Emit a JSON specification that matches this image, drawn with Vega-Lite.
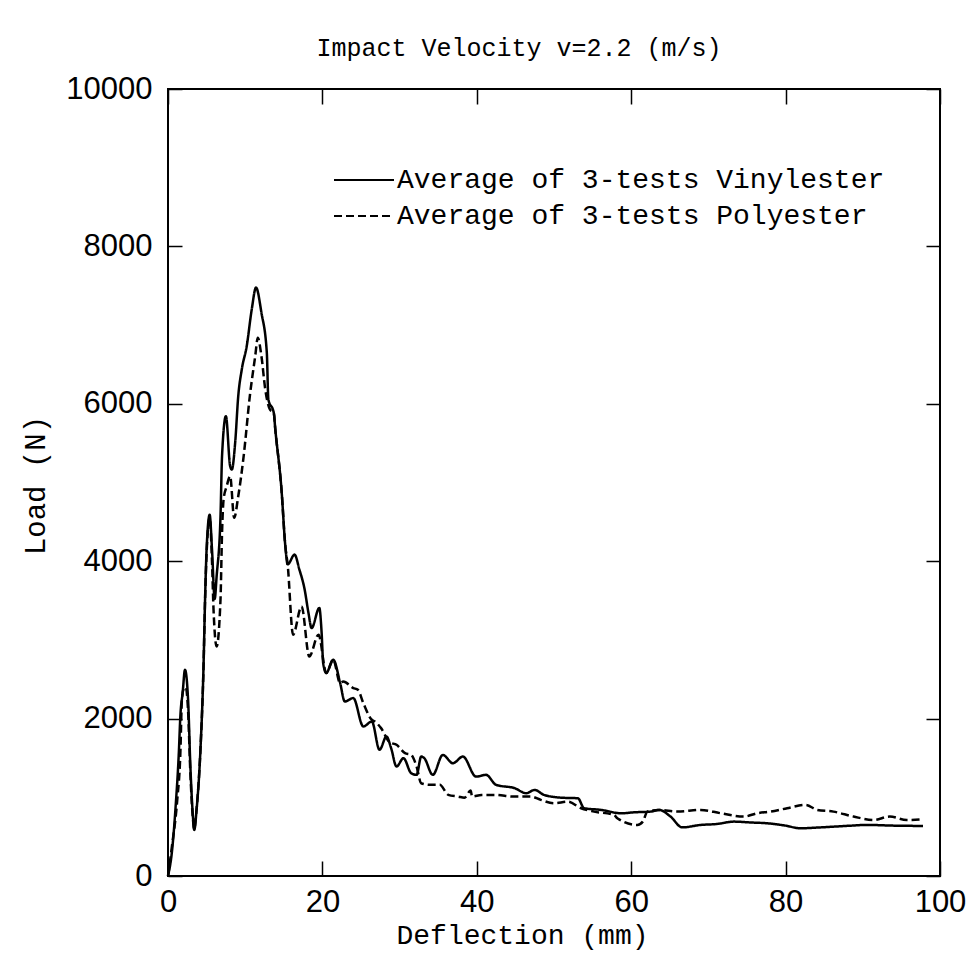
{
  "$schema": "https://vega.github.io/schema/vega-lite/v6.json",
  "autosize": {"type": "none"},
  "padding": {"left": 168, "top": 89, "right": 33, "bottom": 82},
  "width": 772,
  "height": 787,
  "background": "white",
  "title": {"text": "Impact Velocity v=2.2 (m/s)", "font": "Liberation Mono", "fontSize": 25, "fontWeight": "normal", "color": "black", "anchor": "middle", "dx": -35, "offset": -8, "baseline": "alphabetic"},
  "config": {
    "view": {"stroke": "black", "strokeWidth": 2},
    "axis": {"grid": false, "domain": false, "tickColor": "black", "tickWidth": 1.5, "labelColor": "black", "titleColor": "black"}
  },
  "datasets": {
    "curves": [
      {"deflection": 0, "load": 0, "series": "Vinylester"},
      {"deflection": 0.5, "load": 300, "series": "Vinylester"},
      {"deflection": 1.0, "load": 900, "series": "Vinylester"},
      {"deflection": 1.4, "load": 1560, "series": "Vinylester"},
      {"deflection": 1.6, "load": 2030, "series": "Vinylester"},
      {"deflection": 1.9, "load": 2330, "series": "Vinylester"},
      {"deflection": 2.2, "load": 2620, "series": "Vinylester"},
      {"deflection": 2.6, "load": 2240, "series": "Vinylester"},
      {"deflection": 2.9, "load": 1390, "series": "Vinylester"},
      {"deflection": 3.2, "load": 800, "series": "Vinylester"},
      {"deflection": 3.4, "load": 585, "series": "Vinylester"},
      {"deflection": 3.7, "load": 840, "series": "Vinylester"},
      {"deflection": 4.2, "load": 1600, "series": "Vinylester"},
      {"deflection": 4.6, "load": 2660, "series": "Vinylester"},
      {"deflection": 4.8, "load": 3510, "series": "Vinylester"},
      {"deflection": 5.0, "load": 4150, "series": "Vinylester"},
      {"deflection": 5.4, "load": 4590, "series": "Vinylester"},
      {"deflection": 5.7, "load": 4150, "series": "Vinylester"},
      {"deflection": 6.05, "load": 3520, "series": "Vinylester"},
      {"deflection": 6.3, "load": 3810, "series": "Vinylester"},
      {"deflection": 6.8, "load": 4570, "series": "Vinylester"},
      {"deflection": 7.0, "load": 5335, "series": "Vinylester"},
      {"deflection": 7.5, "load": 5843, "series": "Vinylester"},
      {"deflection": 8.05, "load": 5208, "series": "Vinylester"},
      {"deflection": 8.27, "load": 5165, "series": "Vinylester"},
      {"deflection": 8.7, "load": 5505, "series": "Vinylester"},
      {"deflection": 9.1, "load": 6098, "series": "Vinylester"},
      {"deflection": 9.56, "load": 6438, "series": "Vinylester"},
      {"deflection": 10.2, "load": 6734, "series": "Vinylester"},
      {"deflection": 10.85, "load": 7201, "series": "Vinylester"},
      {"deflection": 11.4, "load": 7477, "series": "Vinylester"},
      {"deflection": 12.1, "load": 7159, "series": "Vinylester"},
      {"deflection": 12.8, "load": 6650, "series": "Vinylester"},
      {"deflection": 13.0, "load": 6056, "series": "Vinylester"},
      {"deflection": 13.7, "load": 5886, "series": "Vinylester"},
      {"deflection": 13.9, "load": 5674, "series": "Vinylester"},
      {"deflection": 14.7, "load": 4911, "series": "Vinylester"},
      {"deflection": 15.2, "load": 4190, "series": "Vinylester"},
      {"deflection": 15.5, "load": 3960, "series": "Vinylester"},
      {"deflection": 16.4, "load": 4084, "series": "Vinylester"},
      {"deflection": 17.0, "load": 3900, "series": "Vinylester"},
      {"deflection": 17.7, "load": 3640, "series": "Vinylester"},
      {"deflection": 18.2, "load": 3340, "series": "Vinylester"},
      {"deflection": 18.6, "load": 3150, "series": "Vinylester"},
      {"deflection": 19.6, "load": 3406, "series": "Vinylester"},
      {"deflection": 19.9, "load": 3090, "series": "Vinylester"},
      {"deflection": 20.1, "load": 2706, "series": "Vinylester"},
      {"deflection": 20.5, "load": 2580, "series": "Vinylester"},
      {"deflection": 21.4, "load": 2748, "series": "Vinylester"},
      {"deflection": 22.3, "load": 2452, "series": "Vinylester"},
      {"deflection": 22.9, "load": 2218, "series": "Vinylester"},
      {"deflection": 24.0, "load": 2261, "series": "Vinylester"},
      {"deflection": 25.3, "load": 1900, "series": "Vinylester"},
      {"deflection": 26.4, "load": 1963, "series": "Vinylester"},
      {"deflection": 27.4, "load": 1603, "series": "Vinylester"},
      {"deflection": 28.3, "load": 1773, "series": "Vinylester"},
      {"deflection": 28.9, "load": 1625, "series": "Vinylester"},
      {"deflection": 29.6, "load": 1391, "series": "Vinylester"},
      {"deflection": 30.5, "load": 1497, "series": "Vinylester"},
      {"deflection": 31.5, "load": 1306, "series": "Vinylester"},
      {"deflection": 32.2, "load": 1285, "series": "Vinylester"},
      {"deflection": 32.8, "load": 1518, "series": "Vinylester"},
      {"deflection": 33.2, "load": 1497, "series": "Vinylester"},
      {"deflection": 34.3, "load": 1285, "series": "Vinylester"},
      {"deflection": 35.6, "load": 1539, "series": "Vinylester"},
      {"deflection": 36.9, "load": 1433, "series": "Vinylester"},
      {"deflection": 38.2, "load": 1518, "series": "Vinylester"},
      {"deflection": 39.9, "load": 1263, "series": "Vinylester"},
      {"deflection": 41.2, "load": 1285, "series": "Vinylester"},
      {"deflection": 42.5, "load": 1158, "series": "Vinylester"},
      {"deflection": 44.9, "load": 1116, "series": "Vinylester"},
      {"deflection": 46.4, "load": 1052, "series": "Vinylester"},
      {"deflection": 47.5, "load": 1094, "series": "Vinylester"},
      {"deflection": 48.7, "load": 1031, "series": "Vinylester"},
      {"deflection": 51.0, "load": 995, "series": "Vinylester"},
      {"deflection": 53.1, "load": 988, "series": "Vinylester"},
      {"deflection": 53.9, "load": 861, "series": "Vinylester"},
      {"deflection": 56.1, "load": 840, "series": "Vinylester"},
      {"deflection": 58.7, "load": 797, "series": "Vinylester"},
      {"deflection": 60.5, "load": 810, "series": "Vinylester"},
      {"deflection": 62.5, "load": 818, "series": "Vinylester"},
      {"deflection": 63.6, "load": 840, "series": "Vinylester"},
      {"deflection": 65.1, "load": 755, "series": "Vinylester"},
      {"deflection": 66.6, "load": 618, "series": "Vinylester"},
      {"deflection": 69.0, "load": 649, "series": "Vinylester"},
      {"deflection": 71.0, "load": 660, "series": "Vinylester"},
      {"deflection": 73.3, "load": 691, "series": "Vinylester"},
      {"deflection": 75.5, "load": 680, "series": "Vinylester"},
      {"deflection": 77.6, "load": 670, "series": "Vinylester"},
      {"deflection": 80.0, "load": 640, "series": "Vinylester"},
      {"deflection": 81.9, "load": 606, "series": "Vinylester"},
      {"deflection": 84.0, "load": 615, "series": "Vinylester"},
      {"deflection": 86.2, "load": 627, "series": "Vinylester"},
      {"deflection": 88.5, "load": 640, "series": "Vinylester"},
      {"deflection": 90.5, "load": 649, "series": "Vinylester"},
      {"deflection": 94.0, "load": 640, "series": "Vinylester"},
      {"deflection": 97.8, "load": 636, "series": "Vinylester"},
      {"deflection": 0, "load": 0, "series": "Polyester"},
      {"deflection": 0.5, "load": 370, "series": "Polyester"},
      {"deflection": 1.2, "load": 970, "series": "Polyester"},
      {"deflection": 1.6, "load": 1560, "series": "Polyester"},
      {"deflection": 1.8, "load": 2240, "series": "Polyester"},
      {"deflection": 2.0, "load": 2370, "series": "Polyester"},
      {"deflection": 2.3, "load": 2400, "series": "Polyester"},
      {"deflection": 2.6, "load": 2100, "series": "Polyester"},
      {"deflection": 2.9, "load": 1300, "series": "Polyester"},
      {"deflection": 3.2, "load": 760, "series": "Polyester"},
      {"deflection": 3.4, "load": 600, "series": "Polyester"},
      {"deflection": 3.7, "load": 850, "series": "Polyester"},
      {"deflection": 4.2, "load": 1600, "series": "Polyester"},
      {"deflection": 4.6, "load": 2650, "series": "Polyester"},
      {"deflection": 4.8, "load": 3500, "series": "Polyester"},
      {"deflection": 5.0, "load": 4100, "series": "Polyester"},
      {"deflection": 5.4, "load": 4550, "series": "Polyester"},
      {"deflection": 5.7, "load": 4000, "series": "Polyester"},
      {"deflection": 5.9, "load": 3380, "series": "Polyester"},
      {"deflection": 6.3, "load": 2917, "series": "Polyester"},
      {"deflection": 6.8, "load": 3511, "series": "Polyester"},
      {"deflection": 7.0, "load": 4360, "series": "Polyester"},
      {"deflection": 7.2, "load": 4784, "series": "Polyester"},
      {"deflection": 7.6, "load": 4953, "series": "Polyester"},
      {"deflection": 8.05, "load": 5080, "series": "Polyester"},
      {"deflection": 8.57, "load": 4551, "series": "Polyester"},
      {"deflection": 9.1, "load": 4826, "series": "Polyester"},
      {"deflection": 9.8, "load": 5335, "series": "Polyester"},
      {"deflection": 10.6, "load": 6098, "series": "Polyester"},
      {"deflection": 11.3, "load": 6607, "series": "Polyester"},
      {"deflection": 11.63, "load": 6840, "series": "Polyester"},
      {"deflection": 12.1, "load": 6607, "series": "Polyester"},
      {"deflection": 12.6, "load": 6183, "series": "Polyester"},
      {"deflection": 13.2, "load": 5929, "series": "Polyester"},
      {"deflection": 13.7, "load": 5886, "series": "Polyester"},
      {"deflection": 13.9, "load": 5674, "series": "Polyester"},
      {"deflection": 14.7, "load": 4911, "series": "Polyester"},
      {"deflection": 15.2, "load": 4190, "series": "Polyester"},
      {"deflection": 15.5, "load": 3957, "series": "Polyester"},
      {"deflection": 16.2, "load": 3066, "series": "Polyester"},
      {"deflection": 17.3, "load": 3426, "series": "Polyester"},
      {"deflection": 18.3, "load": 2790, "series": "Polyester"},
      {"deflection": 19.5, "load": 3066, "series": "Polyester"},
      {"deflection": 20.5, "load": 2579, "series": "Polyester"},
      {"deflection": 21.4, "load": 2748, "series": "Polyester"},
      {"deflection": 22.3, "load": 2452, "series": "Polyester"},
      {"deflection": 22.7, "load": 2472, "series": "Polyester"},
      {"deflection": 24.0, "load": 2388, "series": "Polyester"},
      {"deflection": 24.6, "load": 2366, "series": "Polyester"},
      {"deflection": 25.3, "load": 2197, "series": "Polyester"},
      {"deflection": 26.4, "load": 1985, "series": "Polyester"},
      {"deflection": 26.8, "load": 1963, "series": "Polyester"},
      {"deflection": 27.6, "load": 1879, "series": "Polyester"},
      {"deflection": 28.7, "load": 1700, "series": "Polyester"},
      {"deflection": 29.6, "load": 1667, "series": "Polyester"},
      {"deflection": 30.7, "load": 1561, "series": "Polyester"},
      {"deflection": 31.5, "load": 1539, "series": "Polyester"},
      {"deflection": 32.2, "load": 1391, "series": "Polyester"},
      {"deflection": 32.8, "load": 1179, "series": "Polyester"},
      {"deflection": 33.9, "load": 1158, "series": "Polyester"},
      {"deflection": 35.2, "load": 1158, "series": "Polyester"},
      {"deflection": 36.3, "load": 1031, "series": "Polyester"},
      {"deflection": 37.6, "load": 1009, "series": "Polyester"},
      {"deflection": 38.4, "load": 995, "series": "Polyester"},
      {"deflection": 39.2, "load": 1085, "series": "Polyester"},
      {"deflection": 39.4, "load": 1009, "series": "Polyester"},
      {"deflection": 40.6, "load": 1030, "series": "Polyester"},
      {"deflection": 42.3, "load": 1030, "series": "Polyester"},
      {"deflection": 44.9, "load": 1009, "series": "Polyester"},
      {"deflection": 47.0, "load": 1009, "series": "Polyester"},
      {"deflection": 48.3, "load": 967, "series": "Polyester"},
      {"deflection": 50.0, "load": 924, "series": "Polyester"},
      {"deflection": 51.8, "load": 945, "series": "Polyester"},
      {"deflection": 53.5, "load": 861, "series": "Polyester"},
      {"deflection": 55.2, "load": 818, "series": "Polyester"},
      {"deflection": 57.8, "load": 776, "series": "Polyester"},
      {"deflection": 58.2, "load": 734, "series": "Polyester"},
      {"deflection": 60.8, "load": 649, "series": "Polyester"},
      {"deflection": 61.5, "load": 691, "series": "Polyester"},
      {"deflection": 62.1, "load": 818, "series": "Polyester"},
      {"deflection": 63.6, "load": 840, "series": "Polyester"},
      {"deflection": 66.0, "load": 818, "series": "Polyester"},
      {"deflection": 69.0, "load": 840, "series": "Polyester"},
      {"deflection": 71.6, "load": 797, "series": "Polyester"},
      {"deflection": 74.6, "load": 755, "series": "Polyester"},
      {"deflection": 76.3, "load": 797, "series": "Polyester"},
      {"deflection": 78.0, "load": 818, "series": "Polyester"},
      {"deflection": 80.2, "load": 861, "series": "Polyester"},
      {"deflection": 82.6, "load": 903, "series": "Polyester"},
      {"deflection": 84.1, "load": 840, "series": "Polyester"},
      {"deflection": 86.2, "load": 818, "series": "Polyester"},
      {"deflection": 88.8, "load": 755, "series": "Polyester"},
      {"deflection": 91.4, "load": 712, "series": "Polyester"},
      {"deflection": 93.5, "load": 755, "series": "Polyester"},
      {"deflection": 95.7, "load": 712, "series": "Polyester"},
      {"deflection": 97.8, "load": 721, "series": "Polyester"}
    ]
  },
  "data": {"name": "curves"},
  "layer": [
    {
      "mark": {"type": "line", "color": "black", "strokeWidth": 2.5, "interpolate": "monotone"},
      "encoding": {
        "x": {"field": "deflection", "type": "quantitative", "scale": {"domain": [0, 100], "nice": false},
          "axis": {"orient": "bottom", "values": [0, 20, 40, 60, 80, 100], "format": "d", "tickSize": -15, "labelFont": "Liberation Sans", "labelFontSize": 31, "labelPadding": 26, "labelFlush": false,
            "title": "Deflection (mm)", "titleFont": "Liberation Mono", "titleFontSize": 28, "titleFontWeight": "normal", "titleX": 354, "titleY": 67, "titleBaseline": "alphabetic"}},
        "y": {"field": "load", "type": "quantitative", "scale": {"domain": [0, 10000], "nice": false},
          "axis": {"orient": "left", "values": [0, 2000, 4000, 6000, 8000, 10000], "format": "d", "tickSize": -14, "labelFont": "Liberation Sans", "labelFontSize": 31, "labelPadding": 30, "labelFlush": false,
            "title": "Load (N)", "titleFont": "Liberation Mono", "titleFontSize": 29, "titleFontWeight": "normal", "titleX": -133, "titleY": 396, "titleBaseline": "middle", "titleAngle": -90}},
        "strokeDash": {"field": "series", "type": "nominal",
          "scale": {"domain": ["Vinylester", "Polyester"], "range": [[1, 0], [8, 4]]},
          "legend": {"orient": "none", "legendX": 165, "legendY": 76, "title": null, "symbolType": "stroke", "symbolSize": 3600, "symbolStrokeWidth": 2, "symbolStrokeColor": "black", "labelFont": "Liberation Mono", "labelFontSize": 28, "labelColor": "black", "labelOffset": 2, "labelLimit": 0, "clipHeight": 30, "rowPadding": 6, "padding": 0,
            "labelExpr": "'Average of 3-tests ' + datum.label"}}
      }
    },
    {
      "mark": {"type": "point", "opacity": 0},
      "encoding": {
        "x": {"field": "deflection", "type": "quantitative",
          "axis": {"orient": "top", "values": [0, 20, 40, 60, 80, 100], "tickSize": -15, "labels": false, "title": null}},
        "y": {"field": "load", "type": "quantitative",
          "axis": {"orient": "right", "values": [0, 2000, 4000, 6000, 8000, 10000], "tickSize": -14, "labels": false, "title": null}}
      }
    }
  ],
  "resolve": {"axis": {"x": "independent", "y": "independent"}}
}
